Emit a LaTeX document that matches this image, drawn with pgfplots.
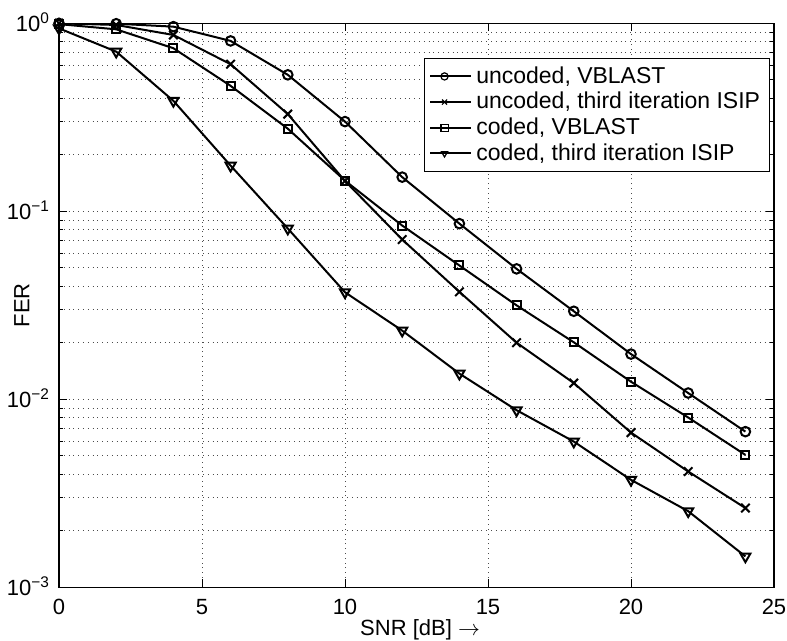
\documentclass[border=0pt]{standalone}
\usepackage{fontspec}
\setmainfont{Liberation Sans}
\usepackage{pgfplots}
\pgfplotsset{compat=1.18}

\begin{document}
\begin{tikzpicture}[font=\fontsize{11}{13}\selectfont]
\useasboundingbox (-29.5pt,-26.85pt) rectangle (364pt,293.65pt);
\begin{axis}[
  at={(0,0)}, anchor=south west,
  scale only axis, width=357.5pt, height=282pt,
  ymode=log,
  xmin=0, xmax=25, ymin=1e-3, ymax=1,
  xtick={0,5,10,15,20,25},
  ytick={1e-3,1e-2,1e-1,1},
  yticklabels={10\textsuperscript{−3},10\textsuperscript{−2},10\textsuperscript{−1},10\textsuperscript{0}},
  minor ytick={2e-3,3e-3,4e-3,5e-3,6e-3,7e-3,8e-3,9e-3,2e-2,3e-2,4e-2,5e-2,6e-2,7e-2,8e-2,9e-2,2e-1,3e-1,4e-1,5e-1,6e-1,7e-1,8e-1,9e-1},
  /pgf/number format/assume math mode=true,
  grid=both,
  major grid style={dotted, black!70, line width=0.4pt},
  minor grid style={dotted, black!70, line width=0.4pt},
  tick align=inside,
  major tick length=4pt,
  minor tick length=2pt,
  tick style={black, line width=0.4pt},
  axis line style={line width=0.6pt},
  xticklabel style={yshift=-2.5pt},
  yticklabel style={anchor=base east, yshift=-4pt, xshift=-1pt},
  xlabel={SNR [dB] $\rightarrow$},
  ylabel={FER},
  every axis x label/.style={at={(axis description cs:0.505,-0.076)}, anchor=center},
  every axis y label/.style={at={(axis description cs:-0.052,0.5)}, anchor=center, rotate=90},
  legend cell align=left,
  legend style={at={(axis description cs:0.994,0.9385)}, anchor=north east,
    draw=black, line width=0.6pt, fill=white,
    font=\fontsize{11.5}{13.5}\selectfont, row sep=-1pt, inner xsep=2.5pt, inner ysep=2pt},
  legend image code/.code={\draw[mark repeat=2,mark phase=2,#1, mark size=1.8pt, every mark/.append style={line width=0.6pt}] plot coordinates {(0cm,0cm) (0.25cm,0cm) (0.5cm,0cm)}; \path (0.5cm,0cm) -- (0.72cm,0cm);},
]
\addplot[black, line width=1pt, mark=o, mark size=2.4pt, mark options={solid, fill=white}] coordinates {
(0,1.0) (2,0.995) (4,0.96) (6,0.806) (8,0.532) (10,0.300) (12,0.152) (14,0.086) (16,0.0494) (18,0.0294) (20,0.0174) (22,0.0108) (24,0.00673)};
\addlegendentry{uncoded, VBLAST}
\addplot[black, line width=1pt, mark=x, mark size=3pt, mark options={solid}] coordinates {
(0,1.0) (2,0.98) (4,0.867) (6,0.606) (8,0.329) (10,0.145) (12,0.0708) (14,0.0373) (16,0.0200) (18,0.0122) (20,0.00665) (22,0.00413) (24,0.00264)};
\addlegendentry{uncoded, third iteration ISIP}
\addplot[black, line width=1pt, mark=square, mark size=2pt, mark options={solid, fill=white}] coordinates {
(0,0.99) (2,0.929) (4,0.737) (6,0.465) (8,0.275) (10,0.1456) (12,0.084) (14,0.0515) (16,0.0316) (18,0.0201) (20,0.0124) (22,0.0080) (24,0.00506)};
\addlegendentry{coded, VBLAST}
\addplot[black, line width=1pt, mark=triangle, mark size=2.9pt, mark options={solid, fill=white, rotate=180}] coordinates {
(0,0.94) (2,0.707) (4,0.387) (6,0.175) (8,0.081) (10,0.0371) (12,0.0232) (14,0.0137) (16,0.00875) (18,0.00596) (20,0.00373) (22,0.00254) (24,0.00146)};
\addlegendentry{coded, third iteration ISIP}
\end{axis}
\end{tikzpicture}
\end{document}
